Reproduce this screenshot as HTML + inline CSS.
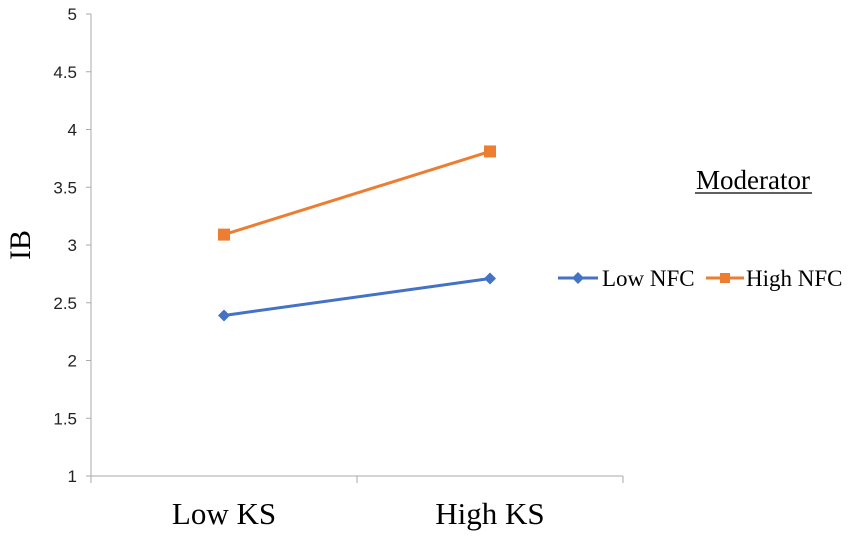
<!DOCTYPE html>
<html><head><meta charset="utf-8"><style>
body{margin:0;background:#fff;}
svg{display:block;}
</style></head><body>
<svg id="chart" width="851" height="536" xmlns="http://www.w3.org/2000/svg">
<g id="axes"></g>
<g id="series"></g>
<text x="23" y="245" transform="rotate(-90 23 245)" text-anchor="middle" dominant-baseline="middle" font-family="Liberation Serif, serif" font-size="30" fill="#000">IB</text>
<text x="753" y="189" text-anchor="middle" font-family="Liberation Serif, serif" font-size="27" fill="#000">Moderator</text>
<line x1="695" y1="193" x2="812" y2="193" stroke="#000" stroke-width="1.3"/>
<g>
<line x1="558" y1="278" x2="598" y2="278" stroke="#4472C4" stroke-width="3"/>
<path d="M578 272 L584 278 L578 284 L572 278Z" fill="#4472C4"/>
<text x="602" y="286" font-family="Liberation Serif, serif" font-size="23" fill="#000">Low NFC</text>
</g>
<g>
<line x1="706" y1="278" x2="744" y2="278" stroke="#ED7D31" stroke-width="3"/>
<rect x="720" y="273" width="10" height="10" fill="#ED7D31"/>
<text x="746" y="286" font-family="Liberation Serif, serif" font-size="23" fill="#000">High NFC</text>
</g>
</svg>
<script>
const categories=["Low KS","High KS"];
const lowNFC=[2.39,2.71];
const highNFC=[3.09,3.81];
const yTicks=[1,1.5,2,2.5,3,3.5,4,4.5,5];
const NS="http://www.w3.org/2000/svg";
const X0=91,X1=623,Y0=476,Y1=14,YMIN=1,YMAX=5;
function y(v){return Y0-(v-YMIN)/(YMAX-YMIN)*(Y0-Y1);}
function x(i){return X0+(i+0.5)*(X1-X0)/categories.length;}
function mk(tag,attrs,parent){const e=document.createElementNS(NS,tag);for(const k in attrs)e.setAttribute(k,attrs[k]);parent.appendChild(e);return e;}
const axes=document.getElementById('axes');
const yl=mk('line',{x1:X0,y1:Y1,x2:X0,y2:Y0,stroke:'#aaa','stroke-width':1},axes);


const xl=mk('line',{x1:X0,y1:Y0,x2:X1,y2:Y0,stroke:'#aaa','stroke-width':1},axes);


yTicks.forEach(t=>{
 mk('line',{x1:X0-5,y1:y(t),x2:X0,y2:y(t),stroke:'#aaa'},axes);
 const tx=mk('text',{x:X0-14,y:y(t)+6,'text-anchor':'end','font-family':'Liberation Sans, sans-serif','font-size':'17',fill:'#222'},axes);
 tx.textContent=String(t);
 
 
});
for(let i=0;i<=categories.length;i++){
 const xx=X0+i*(X1-X0)/categories.length;
 mk('line',{x1:xx,y1:Y0,x2:xx,y2:Y0+7,stroke:'#aaa'},axes);
}
categories.forEach((c,i)=>{
 const tx=mk('text',{x:x(i),y:524,'text-anchor':'middle','font-family':'Liberation Serif, serif','font-size':'31',fill:'#000'},axes);
 tx.textContent=c;
 
 
});
const ser=document.getElementById('series');
function draw(vals,color,shape,name){
 const pl=mk('polyline',{points:vals.map((v,i)=>x(i)+','+y(v)).join(' '),fill:'none',stroke:color,'stroke-width':3},ser);
 
 
 vals.forEach((v,i)=>{
  let m;
  if(shape==='d')m=mk('path',{d:`M${x(i)} ${y(v)-6} L${x(i)+6} ${y(v)} L${x(i)} ${y(v)+6} L${x(i)-6} ${y(v)}Z`,fill:color},ser);
  else m=mk('rect',{x:x(i)-6,y:y(v)-6,width:12,height:12,fill:color},ser);
  
  
 });
}
draw(lowNFC,'#4472C4','d','low-nfc');
draw(highNFC,'#ED7D31','s','high-nfc');
</script>
</body></html>
